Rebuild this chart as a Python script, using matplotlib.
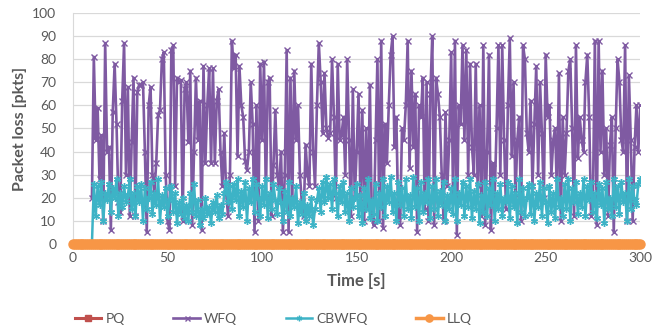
import numpy as np
import matplotlib
matplotlib.use("Agg")
import matplotlib.pyplot as plt

plt.rcParams['font.family'] = ['Lato', 'DejaVu Sans']

time_s = list(range(10, 301))
time_all = list(range(0, 301))

wfq = [
    20, 81, 45, 59, 28, 47, 10, 87, 40, 42,
    6, 57, 78, 52, 18, 14, 62, 87, 30, 68,
    12, 44, 72, 12, 66, 69, 69, 70, 40, 5,
    60, 68, 30, 22, 35, 56, 58, 80, 83, 30,
    10, 6, 84, 86, 25, 72, 70, 71, 10, 67,
    70, 44, 75, 8, 40, 72, 45, 62, 6, 77,
    35, 60, 76, 35, 76, 35, 62, 67, 40, 25,
    48, 22, 12, 30, 88, 76, 82, 38, 77, 60,
    55, 36, 32, 40, 70, 52, 5, 60, 10, 78,
    45, 79, 20, 70, 72, 12, 34, 58, 30, 25,
    40, 5, 30, 84, 5, 72, 20, 75, 45, 60,
    30, 18, 12, 43, 30, 25, 78, 40, 25, 60,
    87, 70, 48, 74, 50, 46, 48, 80, 55, 20,
    78, 45, 47, 55, 30, 80, 45, 12, 67, 20,
    40, 65, 20, 58, 10, 50, 15, 69, 12, 8,
    45, 80, 10, 88, 7, 52, 35, 60, 82, 90,
    42, 55, 12, 8, 50, 45, 60, 88, 33, 75,
    42, 65, 5, 60, 55, 72, 15, 70, 10, 65,
    90, 8, 72, 65, 55, 30, 10, 57, 25, 45,
    83, 20, 88, 4, 60, 52, 86, 45, 84, 30,
    78, 42, 30, 78, 25, 60, 12, 86, 8, 40,
    82, 6, 35, 20, 50, 86, 30, 86, 45, 15,
    60, 89, 38, 70, 20, 45, 55, 10, 86, 80,
    48, 40, 62, 25, 52, 77, 30, 70, 48, 20,
    82, 55, 60, 30, 45, 50, 20, 74, 10, 55,
    30, 48, 75, 80, 50, 12, 86, 37, 55, 45,
    40, 70, 82, 55, 12, 20, 88, 8, 88, 40,
    75, 30, 50, 12, 43, 55, 5, 50, 80, 70,
    45, 40, 86, 10, 73, 45, 10, 42, 60, 40,
    60,
]

cbwfq = [
    0, 26, 12, 25, 17, 27, 10, 22, 19, 26,
    14, 24, 20, 28, 12, 22, 16, 25, 18, 21,
    28, 15, 22, 12, 25, 18, 26, 10, 24, 15,
    20, 27, 13, 22, 17, 28, 10, 21, 16, 24,
    12, 19, 25, 14, 22, 9, 18, 13, 20, 11,
    17, 10, 22, 14, 26, 12, 19, 8, 15, 11,
    20, 13, 16, 9, 18, 14, 21, 11, 17, 13,
    22, 27, 18, 25, 15, 26, 19, 28, 12, 23,
    16, 27, 10, 24, 18, 28, 14, 26, 20, 12,
    25, 17, 28, 11, 22, 15, 26, 19, 13, 24,
    18, 10, 23, 14, 27, 12, 20, 16, 25, 9,
    18, 13, 22, 10, 17, 12, 20, 8, 15, 19,
    24, 14, 27, 18, 29, 20, 26, 15, 28, 22,
    12, 25, 18, 27, 14, 22, 10, 24, 16, 20,
    26, 12, 21, 9, 24, 15, 28, 11, 19, 13,
    26, 10, 22, 16, 28, 12, 25, 18, 29, 14,
    22, 10, 27, 17, 24, 12, 28, 15, 21, 11,
    29, 16, 24, 10, 27, 14, 22, 18, 28, 11,
    25, 15, 28, 12, 23, 17, 27, 10, 21, 15,
    24, 13, 28, 10, 22, 17, 27, 12, 25, 16,
    28, 11, 23, 15, 26, 9, 21, 14, 27, 12,
    24, 17, 28, 10, 22, 15, 26, 12, 20, 18,
    27, 11, 25, 16, 22, 9, 28, 14, 24, 12,
    20, 26, 13, 25, 10, 22, 16, 27, 12, 24,
    18, 9, 25, 14, 22, 11, 28, 16, 20, 12,
    26, 15, 28, 10, 24, 18, 27, 13, 22, 16,
    28, 12, 25, 19, 27, 14, 22, 11, 26, 17,
    24, 9, 27, 15, 20, 12, 28, 16, 25, 13,
    27, 18, 22, 10, 28, 15, 25, 19, 17, 26,
    28,
]

pq = [0] * len(time_all)
llq = [0] * len(time_all)

x_ticks = [0, 50, 100, 150, 200, 250, 300]
y_ticks = list(range(0, 101, 10))

c_pq = '#C0504D'
c_wfq = '#7F5AA2'
c_cb = '#3DB3C6'
c_llq = '#F79646'

fig = plt.figure(figsize=(6.58, 3.26), dpi=100)
ax = fig.add_axes([0.111, 0.252, 0.862, 0.708])

ax.plot(time_all, pq, color=c_pq, lw=2.2, marker='s', ms=5, label='PQ', zorder=2)
ax.plot(time_s, wfq, color=c_wfq, lw=1.9, marker='x', ms=4.5, mew=1.0, label='WFQ', zorder=3)
ax.plot(time_s, cbwfq, color=c_cb, lw=1.8, marker=(6, 2, 0), ms=5, mew=1.0, label='CBWFQ', zorder=4)
ax.plot(time_all, llq, color=c_llq, lw=2.5, marker='o', ms=6.5, label='LLQ', zorder=5, clip_on=False)

ax.set_xlim(0, 300)
ax.set_ylim(0, 100)
ax.set_xticks(x_ticks)
ax.set_yticks(y_ticks)
ax.yaxis.grid(True, color='#D9D9D9', lw=0.9)
ax.set_axisbelow(True)
for s in ['top', 'right', 'bottom']:
    ax.spines[s].set_visible(False)
ax.spines['left'].set_color('#D9D9D9')
ax.tick_params(axis='both', length=0, labelsize=10, colors='#595959', pad=6)
ax.tick_params(axis='y', pad=12)
ax.set_xlabel('Time [s]', fontsize=12, fontweight='bold', color='#595959', labelpad=6)
ax.set_ylabel('Packet loss [pkts]', fontsize=11.5, fontweight='bold', color='#595959', labelpad=4)

handles, labels = ax.get_legend_handles_labels()
leg = fig.legend(handles, labels, loc='lower left', bbox_to_anchor=(0.095, -0.035), ncol=4,
                 frameon=False, fontsize=10, columnspacing=3.5, handlelength=1.9,
                 handletextpad=0.3, markerscale=0.8)
for t in leg.get_texts():
    t.set_color('#595959')

fig.savefig('out.png', dpi=100)
